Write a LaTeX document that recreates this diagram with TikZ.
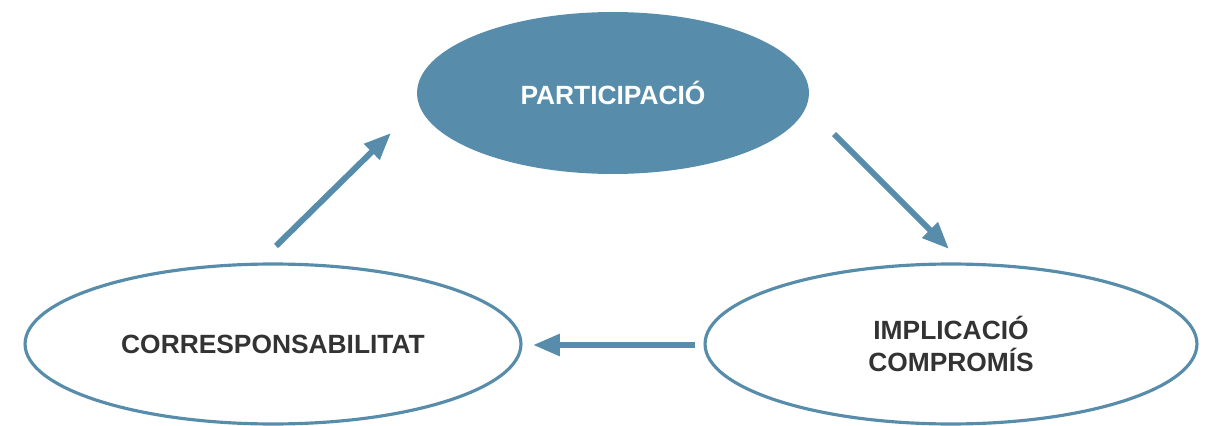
\documentclass[tikz,border=0pt]{standalone}
\usepackage{fontspec}
\setmainfont{Liberation Sans}
\usepackage{xcolor}
\usepackage{tikz}
\usetikzlibrary{shapes.geometric,arrows.meta}

\definecolor{blau}{HTML}{578DAA}
\definecolor{gris}{HTML}{333333}

\tikzset{
	cicle/.style={ellipse,draw=blau,line width=1.8pt,text=gris,align=center,
		font=\fontsize{15}{18.2}\selectfont\bfseries,inner sep=0pt},
	fletxa/.style={draw=blau,line width=3.4pt,-{Triangle[length=0.54cm,width=0.42cm]}}
}

\begin{document}
\begin{tikzpicture}[x=0.02cm,y=-0.02cm]
			
			\useasboundingbox (0,0) rectangle (1208,426);
			
			% el·lipses
			\node[cicle,fill=blau,draw=none,text=white,minimum width=7.84cm,minimum height=3.24cm]
				(part) at (613,93) {PARTICIPACIÓ};
			\node[cicle,minimum width=9.92cm,minimum height=3.2cm]
				(corr) at (273,344) {CORRESPONSABILITAT};
			\node[cicle,minimum width=9.84cm,minimum height=3.2cm]
				(impl) at (951,344) {IMPLICACIÓ\\COMPROMÍS};
			
			% extrems de les fletxes
			\coordinate (a1) at (276,246);
			\coordinate (a2) at (391,133);
			\coordinate (b1) at (834,134);
			\coordinate (b2) at (949,249);
			\coordinate (c1) at (695,345);
			\coordinate (c2) at (533,345);
			
			\draw[fletxa] (a1)--(a2);
			\draw[fletxa] (b1)--(b2);
			\draw[fletxa] (c1)--(c2);
			
		\end{tikzpicture}
\end{document}
